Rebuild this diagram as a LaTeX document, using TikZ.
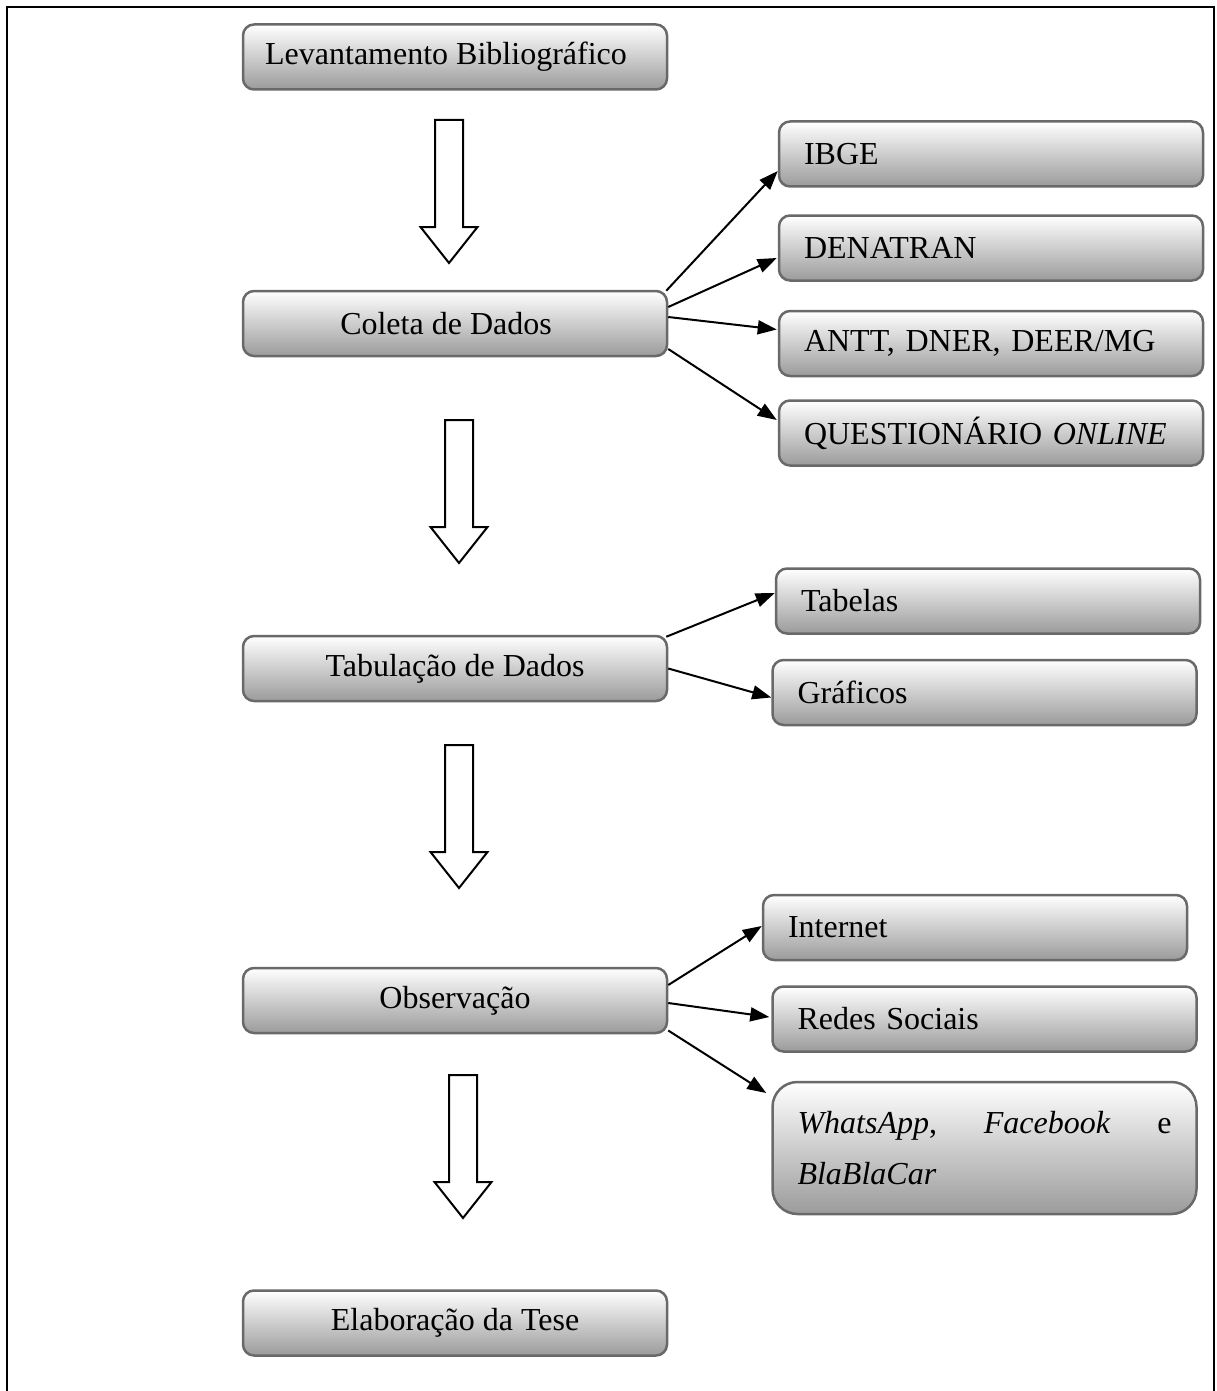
\documentclass[tikz,border=0pt]{standalone}
\usepackage{fontspec}
\setmainfont{Liberation Serif}
\usetikzlibrary{arrows.meta,calc}
\definecolor{boxline}{RGB}{105,105,105}
\definecolor{boxbot}{RGB}{155,155,155}
\tikzset{
  box/.style={draw=boxline, line width=2.5pt, rounded corners=11pt,
    top color=white, bottom color=boxbot, minimum width=424pt,
    minimum height=65pt, inner sep=0pt, font=\fontsize{32}{51}\selectfont},
  mainbox/.style={box, align=center},
  sidebox/.style={box, text width=374pt, inner xsep=25pt, align=left},
  conn/.style={line width=2pt, -{Triangle[length=19pt,width=14pt]}},
  blockarrow/.pic={\draw[line width=2pt, fill=white] (-14,0) -- (14,0) -- (14,107) -- (28.5,107) -- (0,143) -- (-28.5,107) -- (-14,107) -- cycle;}
}
\begin{document}
\begin{tikzpicture}[x=1pt,y=-1pt]
\useasboundingbox (0,0) rectangle (1217,1391);
\draw[line width=2.5pt] (7,1391) -- (7,7) -- (1214,7) -- (1214,1391);

% main column
\node[mainbox] (lev) at (455,57) {Levantamento Bibliográfico\hspace*{18pt}};
\node[mainbox] (coleta) at (455,323.5) {Coleta de Dados\hspace*{18pt}};
\node[mainbox] (tab) at (455,668.5) {Tabulação de Dados};
\node[mainbox] (obs) at (455,1000.5) {Observação};
\node[mainbox] (elab) at (455,1323) {Elaboração da Tese};

% block arrows
\pic at (449,120) {blockarrow};
\pic at (459,420) {blockarrow};
\pic at (459,745) {blockarrow};
\pic at (463,1075) {blockarrow};

% side boxes
\node[sidebox] (ibge) at (991,154) {IBGE};
\node[sidebox] (den) at (991,248) {DENATRAN};
\node[sidebox] (antt) at (991,343.5) {ANTT, DNER, DEER/MG};
\node[sidebox] (quest) at (991,433) {QUESTIONÁRIO \textit{ONLINE}};
\node[sidebox] (tabelas) at (988,601) {Tabelas};
\node[sidebox] (graf) at (984.5,692.5) {Gráficos};
\node[sidebox] (internet) at (975,927.5) {Internet};
\node[sidebox] (redes) at (984.5,1019) {Redes Sociais};
\node[sidebox, minimum height=132pt, rounded corners=25pt] (whats) at (984.5,1148)
  {\hbox to 374pt{\textit{WhatsApp},\hfill\textit{Facebook}\hfill e}\\\textit{BlaBlaCar}};

% connectors
\draw[conn] ($(coleta.north east)+(-2,1)$) -- ($(ibge.west)+(0,17)$);
\draw[conn] ($(coleta.east)+(0,-16.5)$) -- ($(den.west)+(-1,10)$);
\draw[conn] ($(coleta.east)+(0,-6.5)$) -- ($(antt.west)+(-1,-14)$);
\draw[conn] ($(coleta.east)+(0,25.5)$) -- ($(quest.west)+(-1,-13)$);
\draw[conn] ($(tab.north east)+(-2,2)$) -- ($(tabelas.west)+(0,-8)$);
\draw[conn] (tab.east) -- ($(graf.west)+(0,5)$);
\draw[conn] ($(obs.east)+(0,-15.5)$) -- ($(internet.west)+(0,-1.5)$);
\draw[conn] ($(obs.east)+(0,2.5)$) -- ($(redes.west)+(-2,-2)$);
\draw[conn] ($(obs.east)+(0,30)$) -- ($(whats.west)+(-5,-55)$);
\end{tikzpicture}
\end{document}
